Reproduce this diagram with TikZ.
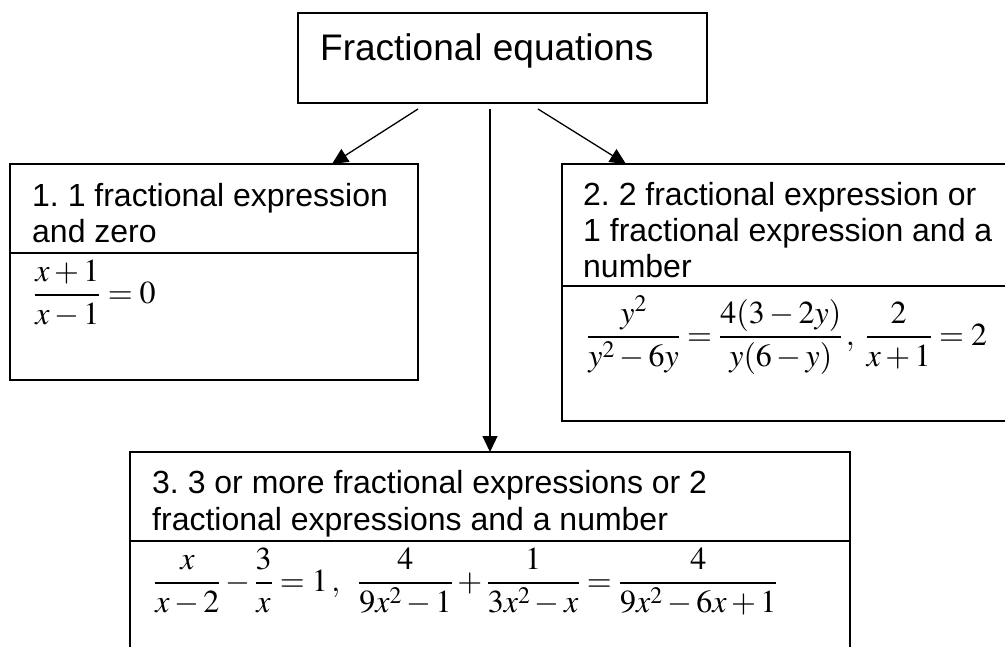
\documentclass[tikz,border=0pt]{standalone}
\usepackage{amsmath}
\usepackage{mathptmx}
\usepackage[no-math]{fontspec}
\setmainfont{Liberation Sans}
\usetikzlibrary{arrows.meta}
\frenchspacing
\begin{document}
\begin{tikzpicture}[x=1pt,y=-1pt,
  box/.style={draw, line width=1.6pt, inner sep=0pt, outer sep=0pt, anchor=north west},
  sepline/.style={line width=1.6pt},
  lbl/.style={inner sep=0pt, anchor=base west, font=\fontsize{32}{36}\selectfont},
  ttl/.style={inner sep=0pt, anchor=base west, font=\fontsize{37}{44}\selectfont},
  eq/.style={inner sep=0pt, anchor=base west, font=\fontsize{32}{38}\selectfont},
  conn/.style={line width=1.3pt, -{Triangle[length=16pt,width=15pt]}}]
\useasboundingbox (0,0) rectangle (1005,646);
\clip (0,0) rectangle (1005,646);
% boxes
\node[box, minimum width=409pt, minimum height=90pt] (top) at (298,13) {};
\node[box, minimum width=408pt, minimum height=216pt] (box1) at (10,164) {};
\node[box, minimum width=460pt, minimum height=257pt] (box2) at (562,164) {};
\node[box, minimum width=720pt, minimum height=220pt] (box3) at (130,452) {};
% separators
\draw[sepline] (box1.west |- 0,253) -- (box1.east |- 0,253);
\draw[sepline] (box2.west |- 0,286) -- (box2.east |- 0,286);
\draw[sepline] (box3.west |- 0,541) -- (box3.east |- 0,541);
% texts
\node[ttl] (ttitle) at (320,60) {Fractional equations};
\node[lbl] (l1a) at (32,206) {1. 1 fractional expression};
\node[lbl] (l1b) at (32,242) {and zero};
\node[lbl] (l2a) at (583,205) {2. 2 fractional expression or};
\node[lbl] (l2b) at (583,241) {1 fractional expression and a};
\node[lbl] (l2c) at (583,277) {number};
\node[lbl] (l3a) at (152,493) {3. 3 or more fractional expressions or 2};
\node[lbl] (l3b) at (152,530) {fractional expressions and a number};
% equations
\node[eq] (e1) at (34,303) {$\dfrac{x+1}{x-1}=0$};
\node[eq] (e2) at (587,345) {$\dfrac{y^2}{y^2-6y}=\dfrac{4(3-2y)}{y(6-y)}\,,\;\dfrac{2}{x+1}=2$};
\node[eq] (e3) at (154,591) {$\dfrac{x}{x-2}-\dfrac{3}{x}=1\,,\;\;\dfrac{4}{9x^2-1}+\dfrac{1}{3x^2-x}=\dfrac{4}{9x^2-6x+1}$};
% connectors
\coordinate (a1) at (418,109);
\coordinate (a2) at (490,109);
\coordinate (a3) at (538,109);
\coordinate (b1) at (332,164);
\coordinate (b3) at (626,164);
\draw[conn] (a1) -- (b1);
\draw[conn] (a2) -- (a2 |- box3.north);
\draw[conn] (a3) -- (b3);
\end{tikzpicture}
\end{document}
